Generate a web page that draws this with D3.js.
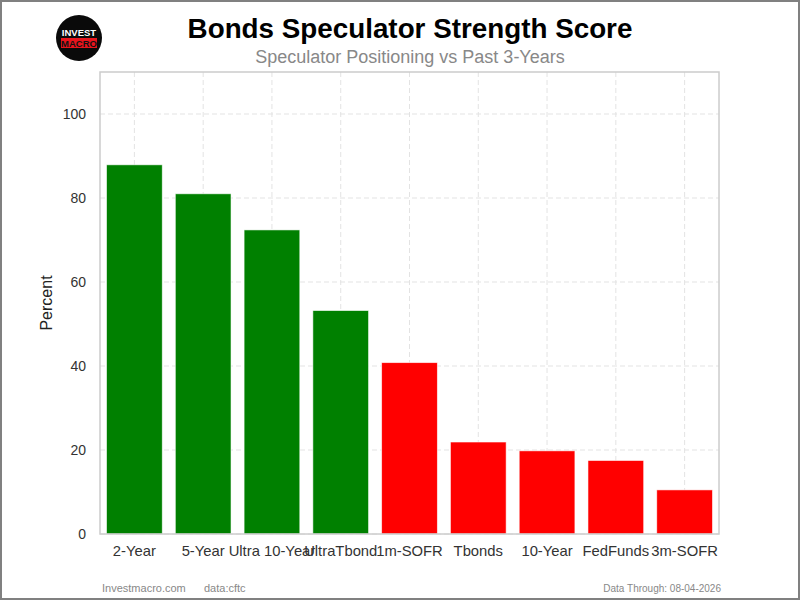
<!DOCTYPE html>
<html>
<head>
<meta charset="utf-8">
<script src="https://cdn.jsdelivr.net/npm/d3@7"></script>
<style>
  body { margin: 0; background: #fff; }
  text { font-family: "Liberation Sans", Arial, sans-serif; }
</style>
</head>
<body>
<div id="cont"></div>
<script>
// Data
var categories = ["2-Year", "5-Year", "Ultra 10-Year", "UltraTbond", "1m-SOFR", "Tbonds", "10-Year", "FedFunds", "3m-SOFR"];
var scores = [87.9, 81.0, 72.4, 53.2, 40.8, 21.9, 19.8, 17.5, 10.5];
var yTicks = [0, 20, 40, 60, 80, 100];

// Layout
var W = 800, H = 600;
var plot = { left: 100, top: 72, right: 719, bottom: 534 };

var svg = d3.select("#cont").append("svg")
    .attr("width", W)
    .attr("height", H);

svg.append("rect")
    .attr("x", 1).attr("y", 1)
    .attr("width", W - 2).attr("height", H - 2)
    .attr("fill", "#fff")
    .attr("stroke", "#808080")
    .attr("stroke-width", 2);

var x = d3.scaleBand()
    .domain(categories)
    .range([plot.left, plot.right])
    .paddingInner(0.19)
    .paddingOuter(0.095);

var y = d3.scaleLinear()
    .domain([0, 110])
    .range([plot.bottom, plot.top]);

// grid
var grid = svg.append("g").attr("class", "grid");
grid.selectAll("line.h")
    .data(yTicks)
    .enter().append("line")
    .attr("class", "h")
    .attr("x1", plot.left).attr("x2", plot.right)
    .attr("y1", function(d) { return y(d); })
    .attr("y2", function(d) { return y(d); });
grid.selectAll("line.v")
    .data(categories)
    .enter().append("line")
    .attr("class", "v")
    .attr("y1", plot.top).attr("y2", plot.bottom)
    .attr("x1", function(d) { return x(d) + x.bandwidth() / 2; })
    .attr("x2", function(d) { return x(d) + x.bandwidth() / 2; });
grid.selectAll("line")
    .attr("stroke", "#e3e3e3")
    .attr("stroke-width", 1)
    .attr("stroke-dasharray", "5,3");

// bars
svg.append("g").selectAll("rect")
    .data(scores)
    .enter().append("rect")
    .attr("x", function(d, i) { return x(categories[i]); })
    .attr("width", x.bandwidth())
    .attr("y", function(d) { return y(d); })
    .attr("height", function(d) { return y(0) - y(d); })
    .attr("fill", function(d) { return d >= 50 ? "#008000" : "#ff0000"; })
    .attr("stroke", "#fff")
    .attr("stroke-opacity", 0.7)
    .attr("stroke-width", 0.8);

// frame
svg.append("rect")
    .attr("x", plot.left).attr("y", plot.top)
    .attr("width", plot.right - plot.left)
    .attr("height", plot.bottom - plot.top)
    .attr("fill", "none")
    .attr("stroke", "#cccccc")
    .attr("stroke-width", 1.5);

// axes
var yAxis = svg.append("g")
    .attr("transform", "translate(" + plot.left + ",0)")
    .call(d3.axisLeft(y).tickValues(yTicks).tickSize(0).tickPadding(14));
var xAxis = svg.append("g")
    .attr("transform", "translate(0," + plot.bottom + ")")
    .call(d3.axisBottom(x).tickSize(0).tickPadding(11));
yAxis.select(".domain").remove();
xAxis.select(".domain").remove();
yAxis.selectAll("text")
    .attr("fill", "#333")
    .style("font-size", "14px");
xAxis.selectAll("text")
    .attr("fill", "#333")
    .style("font-size", "14.8px");
svg.selectAll(".tick text")
    .style("font-family", "'Liberation Sans', Arial, sans-serif");

svg.append("text")
    .attr("transform", "translate(52,303) rotate(-90)")
    .attr("text-anchor", "middle")
    .attr("fill", "#222")
    .style("font-size", "16px")
    .text("Percent");

// titles
svg.append("text")
    .attr("x", 410).attr("y", 38)
    .attr("text-anchor", "middle")
    .attr("fill", "#000")
    .style("font-size", "27.8px")
    .style("font-weight", "bold")
    .text("Bonds Speculator Strength Score");
svg.append("text")
    .attr("x", 410).attr("y", 63)
    .attr("text-anchor", "middle")
    .attr("fill", "#888")
    .style("font-size", "18px")
    .text("Speculator Positioning vs Past 3-Years");

// logo
var logo = svg.append("g").attr("transform", "translate(79,38)");
logo.append("circle").attr("r", 23).attr("fill", "#0a0a0a");
logo.append("rect")
    .attr("x", -18).attr("y", 0)
    .attr("width", 36).attr("height", 10)
    .attr("fill", "#e8141c");
logo.append("text")
    .attr("y", -2).attr("text-anchor", "middle")
    .attr("fill", "#fff")
    .style("font-size", "9.5px").style("font-weight", "bold")
    .text("INVEST");
logo.append("text")
    .attr("y", 8.5).attr("text-anchor", "middle")
    .attr("fill", "#111")
    .style("font-size", "9.5px").style("font-weight", "bold")
    .text("MACRO");

// footer
svg.append("text")
    .attr("x", 102).attr("y", 592)
    .attr("fill", "#888")
    .style("font-size", "11px")
    .text("Investmacro.com");
svg.append("text")
    .attr("x", 204).attr("y", 592)
    .attr("fill", "#888")
    .style("font-size", "11px")
    .text("data:cftc");
svg.append("text")
    .attr("x", 721).attr("y", 592)
    .attr("text-anchor", "end")
    .attr("fill", "#888")
    .style("font-size", "10px")
    .text("Data Through: 08-04-2026");
</script>
</body>
</html>
